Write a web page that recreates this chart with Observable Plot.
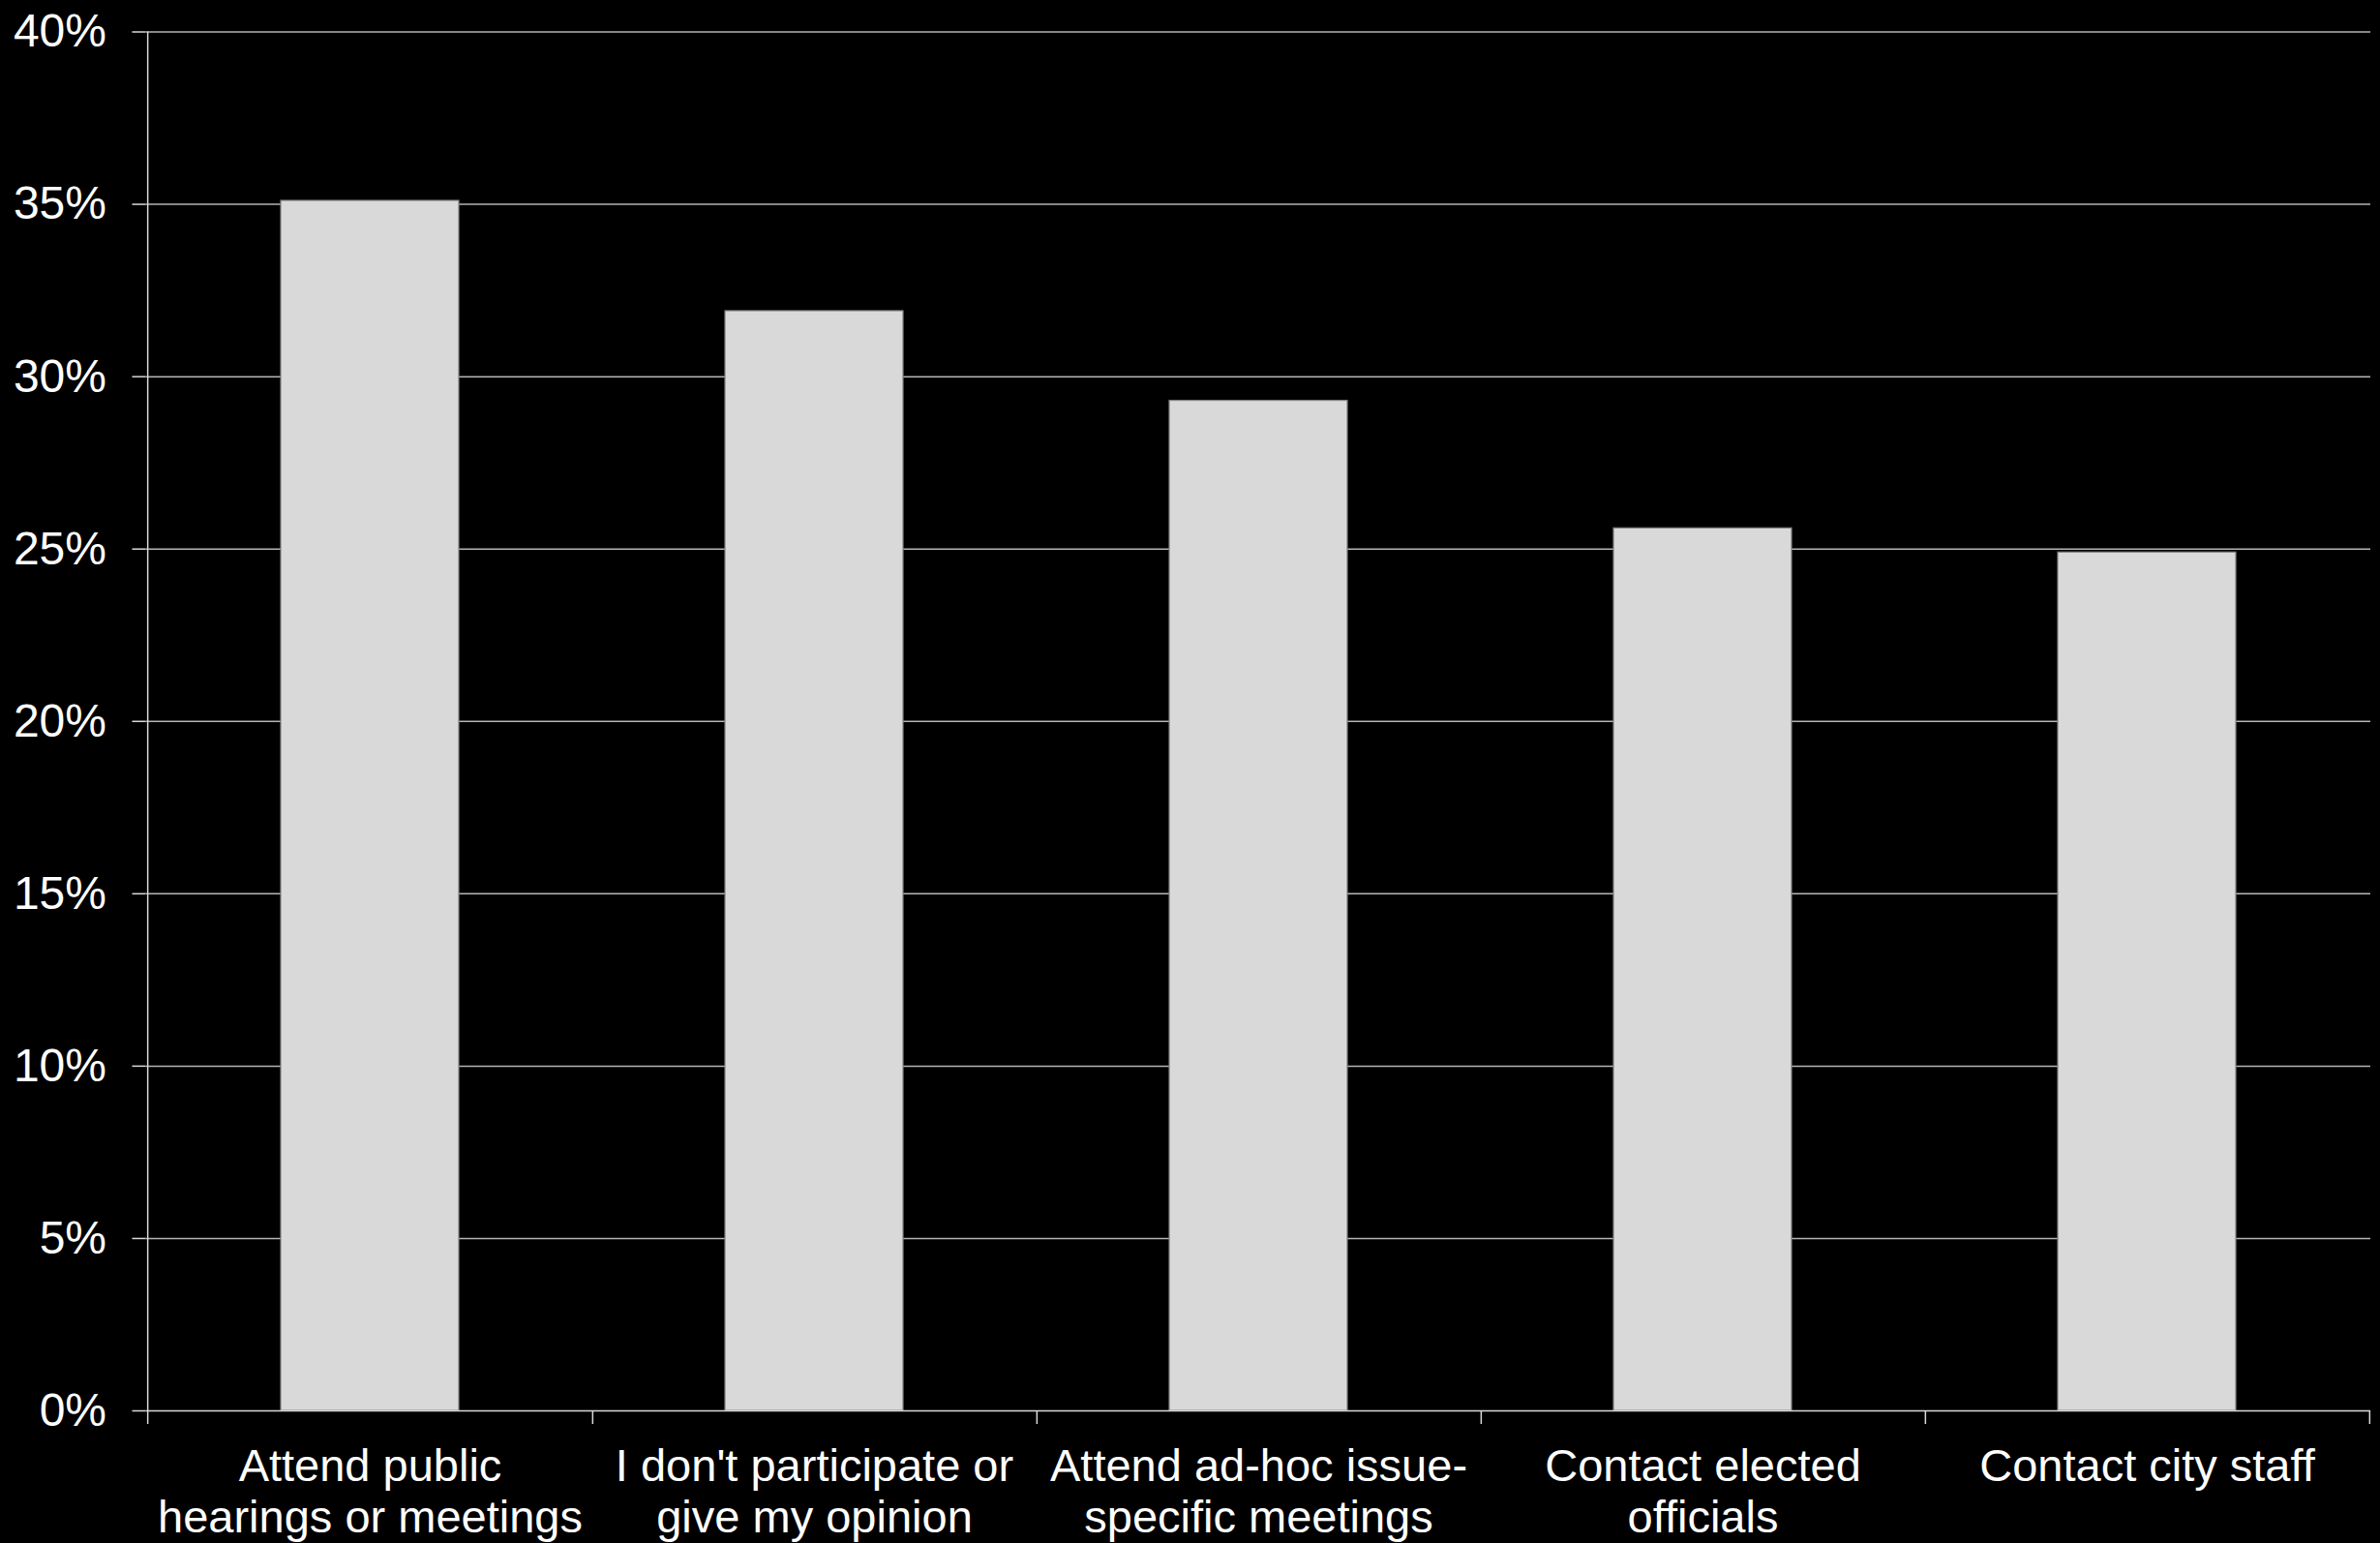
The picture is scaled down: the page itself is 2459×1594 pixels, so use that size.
<!DOCTYPE html>
<html>
<head>
<meta charset="utf-8">
<script src="https://cdn.jsdelivr.net/npm/d3@7"></script>
<script src="https://cdn.jsdelivr.net/npm/@observablehq/plot@0.6"></script>
<style>
  html, body { margin: 0; padding: 0; background: #000; }
  #chart svg { display: block; }
</style>
</head>
<body>
<div id="chart"></div>
<script>
const categories = [
  "Attend public hearings or meetings",
  "I don't participate or give my opinion",
  "Attend ad-hoc issue-specific meetings",
  "Contact elected officials",
  "Contact city staff"
];
const tickLabels = [
  "Attend public\nhearings or meetings",
  "I don't participate or\ngive my opinion",
  "Attend ad-hoc issue-\nspecific meetings",
  "Contact elected\nofficials",
  "Contact city staff"
];
const values = [35.1, 31.9, 29.3, 25.6, 24.9];
const yTicks = [0, 5, 10, 15, 20, 25, 30, 35, 40];

const data = categories.map((c, i) => ({category: c, value: values[i]}));
const labelOf = new Map(categories.map((c, i) => [c, tickLabels[i]]));

const W = 2459, H = 1594;
const mL = 150.5, mR = 10, mT = 32.5, mB = 137;
const step = (W - mL - mR) / categories.length;
const axisColor = "#d9d9d9";
const gridColor = "#b5b5b5";

const chart = Plot.plot({
  width: W,
  height: H,
  marginLeft: mL,
  marginRight: mR,
  marginTop: mT,
  marginBottom: mB,
  style: {
    background: "#000",
    color: "#fff",
    fontFamily: "'Liberation Sans', Arial, sans-serif",
    fontSize: "47px"
  },
  x: {domain: categories, paddingInner: 0.6, paddingOuter: 0.3, axis: null},
  y: {domain: [0, 40], axis: null},
  marks: [
    Plot.ruleY(yTicks.filter(v => v > 0), {stroke: gridColor, strokeWidth: 1.5}),
    Plot.barY(data, {x: "category", y: "value", fill: "#d9d9d9", stroke: "#808080", strokeWidth: 1.2}),
    Plot.ruleY([0], {stroke: axisColor, strokeWidth: 1.5}),
    // y axis line (left edge of first band), extended down like a tick
    Plot.ruleX([categories[0]], {dx: -step / 2, y1: 40, y2: 0, insetBottom: -14, stroke: axisColor, strokeWidth: 1.5}),
    // category boundary ticks
    Plot.ruleX(categories, {dx: step / 2, y1: 0, y2: 0, insetBottom: -14, stroke: axisColor, strokeWidth: 1.5}),
    Plot.axisY({
      ticks: yTicks,
      tickSize: 14,
      tickPadding: 27,
      tickFormat: d => d + "%",
      stroke: axisColor,
      strokeWidth: 1.5,
      fontSize: 48,
      fill: "#fff",
      label: null
    }),
    Plot.axisX({
      tickSize: 0,
      tickPadding: 35,
      tickFormat: d => labelOf.get(d),
      fontSize: 47,
      lineHeight: 1.13,
      fill: "#fff",
      label: null
    })
  ]
});

document.getElementById("chart").appendChild(chart);
</script>
</body>
</html>
